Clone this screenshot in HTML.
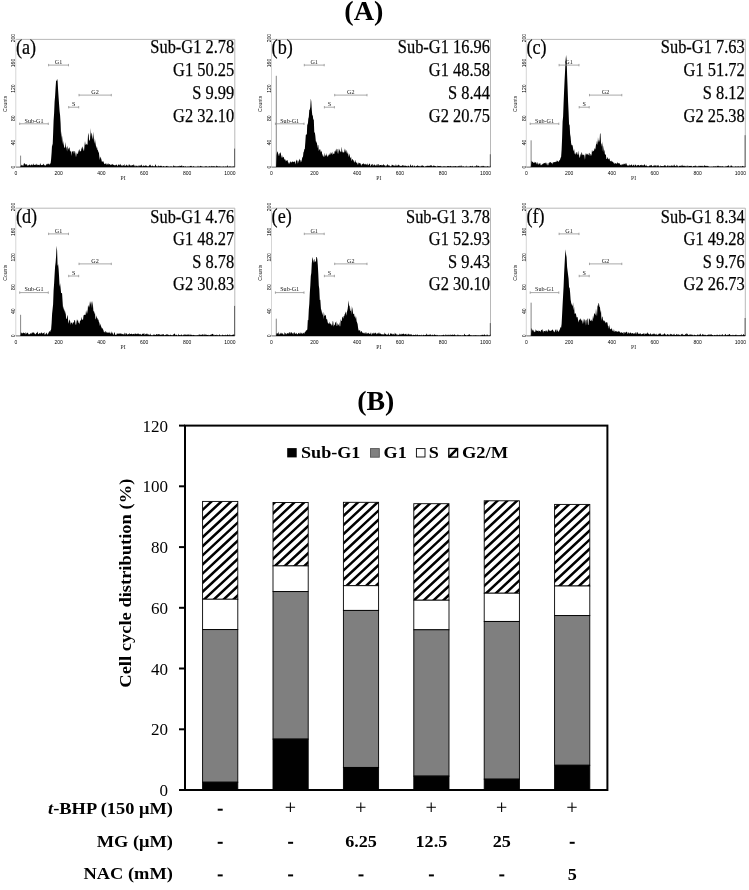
<!DOCTYPE html>
<html><head><meta charset="utf-8"><title>Figure</title>
<style>
html,body{margin:0;padding:0;background:#fff;}
body{width:749px;height:890px;overflow:hidden;font-family:"Liberation Serif",serif;}
svg{display:block}
text{font-family:"Liberation Serif",serif;fill:#000}
.ttl{font-size:27.3px;font-weight:bold;text-anchor:middle}
.lab{font-size:21.5px;stroke:#000;stroke-width:0.25px}
.val{font-size:18px;text-anchor:end;stroke:#000;stroke-width:0.25px}
.gt{font-size:6.1px;text-anchor:middle;fill:#111}
.tk{font-family:"Liberation Sans",sans-serif;font-size:5px;text-anchor:middle;fill:#000}
.ct{font-family:"Liberation Sans",sans-serif;font-size:5.1px;text-anchor:middle;fill:#222}
.pi{font-size:5.6px;text-anchor:middle;fill:#222}
.yt{font-size:17.4px;text-anchor:end}
.yl{font-size:17.7px;font-weight:bold;text-anchor:middle}
.lg{font-size:17.6px;font-weight:bold}
.rl{font-size:17.7px;font-weight:bold;text-anchor:end}
.cv{font-size:17.7px;font-weight:bold;text-anchor:middle}
</style></head><body>
<svg width="749" height="890" viewBox="0 0 749 890">
<defs>
<filter id="bl" x="-10%" y="-10%" width="120%" height="125%"><feGaussianBlur stdDeviation="0.45"/></filter>
<pattern id="hatch" width="10" height="6.65" patternUnits="userSpaceOnUse" patternTransform="rotate(-43)">
<rect width="10" height="6.65" fill="#fff"/><rect x="0" y="0" width="10" height="2.3" fill="#000"/></pattern>
</defs>
<rect width="749" height="890" fill="#fff"/>
<g opacity="0.999">
<text transform="translate(363.8,19.8) scale(1.030,1)" class="ttl">(A)</text>
<g transform="translate(15.8,39.4)">
<g filter="url(#bl)">
<path d="M0 0H219.0V127.7" fill="none" stroke="#b0b0b0" stroke-width="0.9"/>
<path d="M0 0V127.7" fill="none" stroke="#d0d0d0" stroke-width="0.9"/>
<line x1="0" y1="127.7" x2="219.0" y2="127.7" stroke="#666" stroke-width="1"/>
<path d="M0.0 127.7L0.0 127.7L0.5 127.7L1.0 127.7L1.5 127.7L2.0 127.7L2.5 127.7L3.0 127.7L3.5 127.7L4.0 127.7L4.5 127.7L5.0 126.4L5.5 125.2L6.0 126.4L6.5 125.5L7.0 126.4L7.5 126.4L8.0 124.3L8.5 123.6L9.0 124.4L9.5 125.7L10.0 124.3L10.5 125.4L11.0 124.7L11.4 125.3L11.9 126.5L12.4 125.6L12.9 126.0L13.4 125.3L13.9 124.8L14.4 126.4L14.9 125.5L15.4 125.2L15.9 125.0L16.4 126.1L16.9 125.0L17.4 125.5L17.9 123.8L18.4 125.6L18.9 125.5L19.4 125.2L19.9 125.4L20.4 125.8L20.9 124.2L21.4 125.0L21.9 125.9L22.4 125.3L22.9 125.7L23.4 125.8L23.9 125.7L24.4 123.6L24.9 125.1L25.4 125.8L25.9 125.7L26.4 125.7L26.9 125.5L27.4 124.2L27.9 125.2L28.4 125.3L28.9 126.0L29.4 125.9L29.9 126.4L30.4 125.4L30.9 124.6L31.4 124.1L31.9 125.0L32.4 124.3L32.9 124.0L33.3 125.6L33.8 124.6L34.3 124.2L34.8 124.1L35.3 119.8L35.8 113.3L36.3 104.4L36.8 107.0L37.3 94.8L37.8 81.0L38.3 73.9L38.8 62.4L39.3 56.5L39.8 48.2L40.3 41.2L40.8 41.7L41.3 39.3L41.8 41.5L42.3 50.5L42.8 58.1L43.3 65.2L43.8 71.8L44.3 76.0L44.8 84.2L45.3 98.4L45.8 91.6L46.3 104.8L46.8 95.8L47.3 106.6L47.8 101.4L48.3 107.3L48.8 108.6L49.3 107.9L49.8 102.7L50.3 107.7L50.8 108.6L51.3 112.1L51.8 106.0L52.3 108.6L52.8 110.4L53.3 107.8L53.8 108.6L54.3 112.5L54.8 111.7L55.2 111.2L55.7 116.6L56.2 111.5L56.7 112.7L57.2 111.4L57.7 111.9L58.2 114.6L58.7 111.8L59.2 111.6L59.7 114.5L60.2 117.9L60.7 114.8L61.2 112.8L61.7 114.7L62.2 114.5L62.7 110.4L63.2 112.8L63.7 109.3L64.2 111.4L64.7 111.9L65.2 112.2L65.7 107.9L66.2 110.1L66.7 106.9L67.2 108.3L67.7 110.9L68.2 111.5L68.7 106.0L69.2 101.6L69.7 105.2L70.2 105.6L70.7 104.0L71.2 105.3L71.7 105.1L72.2 95.8L72.7 93.3L73.2 99.5L73.7 101.6L74.2 100.7L74.7 88.7L75.2 97.5L75.7 93.2L76.2 94.6L76.6 97.8L77.1 100.0L77.6 92.0L78.1 100.5L78.6 104.3L79.1 98.9L79.6 103.0L80.1 106.1L80.6 109.3L81.1 106.3L81.6 110.4L82.1 110.9L82.6 112.5L83.1 113.3L83.6 117.5L84.1 120.5L84.6 117.0L85.1 118.4L85.6 120.1L86.1 122.4L86.6 122.2L87.1 122.2L87.6 121.9L88.1 123.5L88.6 124.8L89.1 124.4L89.6 124.1L90.1 124.4L90.6 125.7L91.1 123.7L91.6 124.7L92.1 125.4L92.6 123.5L93.1 125.7L93.6 124.7L94.1 124.7L94.6 125.9L95.1 125.2L95.6 125.0L96.1 125.3L96.6 125.2L97.1 124.3L97.6 125.7L98.1 125.7L98.5 126.0L99.0 125.5L99.5 126.2L100.0 125.3L100.5 125.3L101.0 125.2L101.5 127.0L102.0 125.9L102.5 125.5L103.0 124.5L103.5 126.0L104.0 125.2L104.5 124.3L105.0 125.8L105.5 125.9L106.0 126.3L106.5 126.9L107.0 125.3L107.5 125.9L108.0 126.0L108.5 124.4L109.0 126.9L109.5 125.9L110.0 126.8L110.5 124.9L111.0 125.9L111.5 126.4L112.0 126.2L112.5 124.9L113.0 127.4L113.5 124.5L114.0 125.5L114.5 126.5L115.0 125.5L115.5 126.2L116.0 126.2L116.5 125.9L117.0 125.5L117.5 126.1L118.0 124.7L118.5 125.9L119.0 127.2L119.5 127.0L120.0 125.8L120.5 126.1L120.9 126.8L121.4 126.1L121.9 127.4L122.4 125.6L122.9 127.0L123.4 126.9L123.9 125.8L124.4 125.8L124.9 126.4L125.4 126.2L125.9 124.9L126.4 126.9L126.9 127.2L127.4 125.5L127.9 126.5L128.4 126.4L128.9 126.5L129.4 126.3L129.9 125.9L130.4 126.1L130.9 126.3L131.4 127.4L131.9 126.6L132.4 126.7L132.9 127.4L133.4 125.2L133.9 126.2L134.4 126.3L134.9 124.9L135.4 127.3L135.9 126.3L136.4 126.9L136.9 125.8L137.4 126.5L137.9 127.0L138.4 126.7L138.9 127.3L139.4 125.0L139.9 125.0L140.4 127.4L140.9 126.4L141.4 127.4L141.9 127.0L142.3 125.6L142.8 126.9L143.3 127.2L143.8 126.7L144.3 126.3L144.8 126.3L145.3 126.9L145.8 126.0L146.3 127.4L146.8 127.2L147.3 126.8L147.8 126.5L148.3 127.2L148.8 127.2L149.3 127.4L149.8 127.2L150.3 126.7L150.8 126.5L151.3 126.4L151.8 127.0L152.3 127.1L152.8 127.0L153.3 127.2L153.8 127.4L154.3 127.3L154.8 126.9L155.3 126.8L155.8 127.1L156.3 127.4L156.8 127.4L157.3 127.0L157.8 125.9L158.3 126.4L158.8 127.0L159.3 126.4L159.8 127.3L160.3 126.8L160.8 127.2L161.3 127.4L161.8 126.9L162.3 126.6L162.8 126.8L163.3 127.3L163.8 126.1L164.2 126.7L164.7 126.6L165.2 126.3L165.7 126.4L166.2 125.8L166.7 127.4L167.2 127.2L167.7 126.6L168.2 126.7L168.7 127.3L169.2 127.4L169.7 126.6L170.2 127.4L170.7 127.4L171.2 127.4L171.7 127.2L172.2 127.1L172.7 127.0L173.2 127.4L173.7 127.4L174.2 126.4L174.7 126.8L175.2 126.3L175.7 126.6L176.2 127.3L176.7 127.4L177.2 127.1L177.7 126.7L178.2 127.1L178.7 127.4L179.2 127.4L179.7 127.4L180.2 127.4L180.7 127.4L181.2 127.4L181.7 127.4L182.2 126.0L182.7 127.4L183.2 127.4L183.7 127.4L184.2 126.6L184.7 126.4L185.2 127.0L185.7 126.8L186.2 127.0L186.6 127.2L187.1 127.4L187.6 127.4L188.1 127.4L188.6 127.4L189.1 127.1L189.6 126.8L190.1 127.1L190.6 126.8L191.1 127.2L191.6 127.4L192.1 127.4L192.6 127.1L193.1 127.4L193.6 126.6L194.1 127.2L194.6 127.0L195.1 127.4L195.6 126.8L196.1 126.4L196.6 126.8L197.1 127.4L197.6 126.5L198.1 127.0L198.6 127.0L199.1 126.8L199.6 127.4L200.1 127.3L200.6 126.5L201.1 126.2L201.6 127.2L202.1 126.9L202.6 127.0L203.1 127.4L203.6 127.2L204.1 126.9L204.6 127.4L205.1 127.0L205.6 127.4L206.1 127.4L206.6 127.4L207.1 127.1L207.6 126.8L208.0 127.4L208.5 127.4L209.0 127.4L209.5 126.9L210.0 127.3L210.5 127.3L211.0 127.2L211.5 125.6L212.0 127.2L212.5 127.4L213.0 127.4L213.5 126.8L214.0 127.4L214.5 126.8L215.0 127.3L215.5 127.4L216.0 127.4L216.5 127.4L217.0 127.1L217.5 127.1L218.0 127.0L218.5 126.8L219.0 127.0L219.0 127.7Z" fill="#000"/>
<line x1="4.8" y1="127.7" x2="4.8" y2="116.2" stroke="#222" stroke-width="0.55"/>
<line x1="218.8" y1="127.7" x2="218.8" y2="109.2" stroke="#444" stroke-width="0.8"/>
<path d="M32.8 25.7H52.7M32.8 24.5v2.4M52.7 24.5v2.4" stroke="#8c8c8c" stroke-width="0.75" fill="none"/>
<text x="42.7" y="24.5" class="gt">G1</text>
<path d="M52.9 67.8H62.9M52.9 66.6v2.4M62.9 66.6v2.4" stroke="#8c8c8c" stroke-width="0.75" fill="none"/>
<text x="57.9" y="66.6" class="gt">S</text>
<path d="M63.2 55.7H95.5M63.2 54.5v2.4M95.5 54.5v2.4" stroke="#8c8c8c" stroke-width="0.75" fill="none"/>
<text x="79.3" y="54.5" class="gt">G2</text>
<path d="M3.9 84.4H32.5M3.9 83.2v2.4M32.5 83.2v2.4" stroke="#8c8c8c" stroke-width="0.75" fill="none"/>
<text x="18.2" y="83.2" class="gt">Sub-G1</text>
<text x="0.0" y="135.8" class="tk">0</text>
<text x="42.8" y="135.8" class="tk">200</text>
<text x="85.6" y="135.8" class="tk">400</text>
<text x="128.4" y="135.8" class="tk">600</text>
<text x="171.3" y="135.8" class="tk">800</text>
<text x="214.1" y="135.8" class="tk">1000</text>
<text transform="translate(-0.7,127.7) rotate(-90)" class="tk">0</text>
<text transform="translate(-0.7,103.0) rotate(-90)" class="tk">40</text>
<text transform="translate(-0.7,78.9) rotate(-90)" class="tk">80</text>
<text transform="translate(-0.7,49.2) rotate(-90)" class="tk">120</text>
<text transform="translate(-0.7,23.6) rotate(-90)" class="tk">160</text>
<text transform="translate(-0.7,-1.2) rotate(-90)" class="tk">200</text>
<text transform="translate(-9.3,64.5) rotate(-90)" class="ct">Counts</text>
<text x="107.3" y="140.5" class="pi">PI</text>
</g>
<text transform="translate(0.1,14.4) scale(0.845,1)" class="lab">(a)</text>
<text transform="translate(218.4,13.8) scale(0.912,1)" class="val">Sub-G1 2.78</text>
<text transform="translate(218.4,36.6) scale(0.912,1)" class="val">G1 50.25</text>
<text transform="translate(218.4,59.5) scale(0.912,1)" class="val">S 9.99</text>
<text transform="translate(218.4,82.4) scale(0.912,1)" class="val">G2 32.10</text>
</g>
<g transform="translate(271.5,39.4)">
<g filter="url(#bl)">
<path d="M0 0H219.0V127.7" fill="none" stroke="#b0b0b0" stroke-width="0.9"/>
<path d="M0 0V127.7" fill="none" stroke="#d0d0d0" stroke-width="0.9"/>
<line x1="0" y1="127.7" x2="219.0" y2="127.7" stroke="#666" stroke-width="1"/>
<path d="M0.0 127.7L0.0 127.7L0.5 127.7L1.0 127.7L1.5 127.7L2.0 127.7L2.5 127.7L3.0 127.7L3.5 127.7L4.0 127.7L4.5 127.7L5.0 116.1L5.5 112.9L6.0 111.8L6.5 113.8L7.0 115.2L7.5 117.0L8.0 113.9L8.5 113.9L9.0 112.7L9.5 115.0L10.0 118.9L10.5 115.3L11.0 118.2L11.4 118.0L11.9 117.4L12.4 118.1L12.9 120.1L13.4 120.1L13.9 120.0L14.4 122.0L14.9 120.9L15.4 121.4L15.9 120.3L16.4 122.4L16.9 123.1L17.4 124.3L17.9 124.0L18.4 122.7L18.9 121.8L19.4 123.1L19.9 123.2L20.4 122.3L20.9 122.2L21.4 122.4L21.9 122.3L22.4 122.8L22.9 121.9L23.4 122.4L23.9 125.2L24.4 122.1L24.9 121.2L25.4 120.1L25.9 121.6L26.4 124.3L26.9 122.2L27.4 121.0L27.9 119.2L28.4 121.1L28.9 120.7L29.4 123.0L29.9 121.8L30.4 120.2L30.9 117.0L31.4 118.4L31.9 113.1L32.4 112.2L32.9 109.5L33.3 109.6L33.8 103.2L34.3 95.6L34.8 94.5L35.3 95.9L35.8 83.7L36.3 85.9L36.8 79.4L37.3 77.5L37.8 70.3L38.3 70.4L38.8 67.5L39.3 59.1L39.8 62.0L40.3 70.5L40.8 75.9L41.3 76.2L41.8 80.4L42.3 79.9L42.8 93.4L43.3 92.8L43.8 96.1L44.3 101.6L44.8 103.9L45.3 101.4L45.8 109.1L46.3 105.2L46.8 105.9L47.3 111.5L47.8 110.3L48.3 109.3L48.8 113.4L49.3 109.4L49.8 112.5L50.3 111.5L50.8 116.8L51.3 114.2L51.8 117.3L52.3 117.1L52.8 113.0L53.3 117.8L53.8 115.2L54.3 117.2L54.8 113.5L55.2 116.2L55.7 116.1L56.2 117.5L56.7 116.5L57.2 115.0L57.7 115.5L58.2 114.7L58.7 112.6L59.2 115.5L59.7 112.9L60.2 114.9L60.7 112.1L61.2 115.5L61.7 114.3L62.2 114.1L62.7 114.5L63.2 111.5L63.7 112.3L64.2 111.2L64.7 109.1L65.2 111.2L65.7 114.4L66.2 109.5L66.7 109.4L67.2 114.8L67.7 109.1L68.2 111.2L68.7 111.7L69.2 112.9L69.7 112.6L70.2 107.2L70.7 111.7L71.2 113.0L71.7 112.6L72.2 113.3L72.7 112.9L73.2 108.8L73.7 112.9L74.2 109.3L74.7 114.2L75.2 110.4L75.7 112.6L76.2 114.6L76.6 113.6L77.1 117.8L77.6 114.0L78.1 115.7L78.6 117.5L79.1 119.2L79.6 117.2L80.1 121.9L80.6 120.0L81.1 119.4L81.6 121.0L82.1 120.6L82.6 123.0L83.1 122.9L83.6 120.4L84.1 122.2L84.6 123.0L85.1 123.4L85.6 123.1L86.1 125.0L86.6 125.0L87.1 122.8L87.6 123.9L88.1 123.3L88.6 124.3L89.1 123.6L89.6 126.5L90.1 125.1L90.6 124.9L91.1 124.5L91.6 124.2L92.1 123.9L92.6 125.4L93.1 124.4L93.6 125.4L94.1 124.1L94.6 125.4L95.1 124.7L95.6 126.1L96.1 123.6L96.6 125.5L97.1 125.8L97.6 124.1L98.1 124.6L98.5 124.3L99.0 127.4L99.5 125.8L100.0 125.0L100.5 124.9L101.0 124.3L101.5 127.2L102.0 125.1L102.5 126.0L103.0 124.9L103.5 125.4L104.0 126.0L104.5 126.6L105.0 125.5L105.5 124.7L106.0 125.0L106.5 127.0L107.0 124.4L107.5 125.2L108.0 126.3L108.5 125.7L109.0 125.5L109.5 125.5L110.0 125.4L110.5 126.7L111.0 125.7L111.5 125.5L112.0 124.4L112.5 126.4L113.0 125.9L113.5 125.7L114.0 126.7L114.5 127.3L115.0 126.2L115.5 125.4L116.0 124.7L116.5 126.0L117.0 125.9L117.5 126.2L118.0 125.8L118.5 127.2L119.0 126.5L119.5 127.3L120.0 126.4L120.5 124.8L120.9 125.9L121.4 125.6L121.9 126.1L122.4 126.1L122.9 126.9L123.4 125.5L123.9 126.8L124.4 124.5L124.9 126.0L125.4 126.5L125.9 126.4L126.4 125.6L126.9 125.1L127.4 126.1L127.9 125.6L128.4 127.2L128.9 126.7L129.4 126.3L129.9 126.8L130.4 126.2L130.9 126.2L131.4 125.7L131.9 125.9L132.4 127.1L132.9 126.7L133.4 125.9L133.9 126.7L134.4 126.2L134.9 126.5L135.4 126.9L135.9 127.3L136.4 126.2L136.9 126.5L137.4 126.0L137.9 127.3L138.4 127.4L138.9 124.7L139.4 125.8L139.9 127.1L140.4 126.4L140.9 126.3L141.4 125.3L141.9 127.4L142.3 127.4L142.8 126.3L143.3 126.0L143.8 127.3L144.3 127.2L144.8 126.4L145.3 126.9L145.8 126.4L146.3 125.6L146.8 126.7L147.3 126.9L147.8 126.3L148.3 127.1L148.8 127.4L149.3 126.4L149.8 126.2L150.3 126.5L150.8 125.7L151.3 126.5L151.8 126.4L152.3 126.9L152.8 127.4L153.3 127.4L153.8 126.7L154.3 127.1L154.8 126.8L155.3 126.4L155.8 126.5L156.3 126.1L156.8 126.5L157.3 126.4L157.8 126.4L158.3 126.7L158.8 125.7L159.3 126.4L159.8 126.4L160.3 125.7L160.8 127.3L161.3 126.5L161.8 126.3L162.3 126.2L162.8 126.7L163.3 126.4L163.8 126.6L164.2 126.9L164.7 127.1L165.2 127.4L165.7 127.4L166.2 126.2L166.7 126.9L167.2 126.5L167.7 126.8L168.2 126.5L168.7 127.2L169.2 126.3L169.7 126.8L170.2 127.4L170.7 127.4L171.2 127.2L171.7 127.4L172.2 126.6L172.7 127.1L173.2 126.9L173.7 127.4L174.2 126.9L174.7 127.1L175.2 127.3L175.7 126.6L176.2 126.8L176.7 126.7L177.2 126.8L177.7 126.9L178.2 127.1L178.7 126.4L179.2 126.9L179.7 126.7L180.2 127.3L180.7 127.4L181.2 126.9L181.7 126.7L182.2 127.0L182.7 127.3L183.2 126.6L183.7 126.7L184.2 126.8L184.7 126.8L185.2 127.3L185.7 126.9L186.2 127.3L186.6 126.8L187.1 126.8L187.6 126.0L188.1 126.9L188.6 127.4L189.1 126.7L189.6 125.6L190.1 126.9L190.6 127.4L191.1 126.9L191.6 127.4L192.1 126.5L192.6 127.4L193.1 127.4L193.6 127.4L194.1 127.4L194.6 126.2L195.1 127.4L195.6 127.2L196.1 127.3L196.6 127.3L197.1 127.4L197.6 126.8L198.1 127.4L198.6 126.9L199.1 126.3L199.6 127.1L200.1 126.9L200.6 127.0L201.1 126.1L201.6 127.4L202.1 127.4L202.6 127.3L203.1 126.9L203.6 127.4L204.1 126.6L204.6 127.4L205.1 125.6L205.6 125.9L206.1 127.2L206.6 126.5L207.1 126.4L207.6 126.8L208.0 127.4L208.5 127.4L209.0 127.2L209.5 127.4L210.0 126.9L210.5 126.4L211.0 126.5L211.5 127.4L212.0 126.4L212.5 126.7L213.0 127.3L213.5 126.9L214.0 127.4L214.5 127.1L215.0 127.4L215.5 127.1L216.0 126.7L216.5 127.1L217.0 127.0L217.5 127.3L218.0 127.4L218.5 127.2L219.0 125.6L219.0 127.7Z" fill="#000"/>
<line x1="4.8" y1="127.7" x2="4.8" y2="36.4" stroke="#222" stroke-width="0.55"/>
<line x1="218.8" y1="127.7" x2="218.8" y2="114.9" stroke="#444" stroke-width="0.8"/>
<path d="M32.8 25.7H52.7M32.8 24.5v2.4M52.7 24.5v2.4" stroke="#8c8c8c" stroke-width="0.75" fill="none"/>
<text x="42.7" y="24.5" class="gt">G1</text>
<path d="M52.9 67.8H62.9M52.9 66.6v2.4M62.9 66.6v2.4" stroke="#8c8c8c" stroke-width="0.75" fill="none"/>
<text x="57.9" y="66.6" class="gt">S</text>
<path d="M63.2 55.7H95.5M63.2 54.5v2.4M95.5 54.5v2.4" stroke="#8c8c8c" stroke-width="0.75" fill="none"/>
<text x="79.3" y="54.5" class="gt">G2</text>
<path d="M3.9 84.4H32.5M3.9 83.2v2.4M32.5 83.2v2.4" stroke="#8c8c8c" stroke-width="0.75" fill="none"/>
<text x="18.2" y="83.2" class="gt">Sub-G1</text>
<text x="0.0" y="135.8" class="tk">0</text>
<text x="42.8" y="135.8" class="tk">200</text>
<text x="85.6" y="135.8" class="tk">400</text>
<text x="128.4" y="135.8" class="tk">600</text>
<text x="171.3" y="135.8" class="tk">800</text>
<text x="214.1" y="135.8" class="tk">1000</text>
<text transform="translate(-0.7,127.7) rotate(-90)" class="tk">0</text>
<text transform="translate(-0.7,103.0) rotate(-90)" class="tk">40</text>
<text transform="translate(-0.7,78.9) rotate(-90)" class="tk">80</text>
<text transform="translate(-0.7,49.2) rotate(-90)" class="tk">120</text>
<text transform="translate(-0.7,23.6) rotate(-90)" class="tk">160</text>
<text transform="translate(-0.7,-1.2) rotate(-90)" class="tk">200</text>
<text transform="translate(-9.3,64.5) rotate(-90)" class="ct">Counts</text>
<text x="107.3" y="140.5" class="pi">PI</text>
</g>
<text transform="translate(0.1,14.4) scale(0.845,1)" class="lab">(b)</text>
<text transform="translate(218.4,13.8) scale(0.912,1)" class="val">Sub-G1 16.96</text>
<text transform="translate(218.4,36.6) scale(0.912,1)" class="val">G1 48.58</text>
<text transform="translate(218.4,59.5) scale(0.912,1)" class="val">S 8.44</text>
<text transform="translate(218.4,82.4) scale(0.912,1)" class="val">G2 20.75</text>
</g>
<g transform="translate(526.3,39.4)">
<g filter="url(#bl)">
<path d="M0 0H219.0V127.7" fill="none" stroke="#b0b0b0" stroke-width="0.9"/>
<path d="M0 0V127.7" fill="none" stroke="#d0d0d0" stroke-width="0.9"/>
<line x1="0" y1="127.7" x2="219.0" y2="127.7" stroke="#666" stroke-width="1"/>
<path d="M0.0 127.7L0.0 127.7L0.5 127.7L1.0 127.7L1.5 127.7L2.0 127.7L2.5 127.7L3.0 127.7L3.5 127.7L4.0 127.7L4.5 127.7L5.0 122.7L5.5 121.2L6.0 122.5L6.5 122.3L7.0 123.1L7.5 123.6L8.0 123.5L8.5 122.3L9.0 122.6L9.5 123.4L10.0 123.0L10.5 125.2L11.0 122.3L11.4 124.4L11.9 125.5L12.4 123.9L12.9 124.8L13.4 123.6L13.9 123.7L14.4 125.8L14.9 125.8L15.4 125.0L15.9 125.0L16.4 124.3L16.9 124.5L17.4 123.5L17.9 123.8L18.4 123.7L18.9 123.0L19.4 123.6L19.9 125.4L20.4 123.2L20.9 123.8L21.4 125.8L21.9 125.8L22.4 123.4L22.9 123.8L23.4 122.7L23.9 122.8L24.4 122.5L24.9 123.9L25.4 123.1L25.9 125.1L26.4 123.1L26.9 123.3L27.4 122.7L27.9 122.5L28.4 122.9L28.9 122.3L29.4 122.9L29.9 120.8L30.4 122.8L30.9 121.9L31.4 121.1L31.9 122.3L32.4 122.3L32.9 120.7L33.3 121.3L33.8 120.0L34.3 118.4L34.8 117.7L35.3 110.3L35.8 98.5L36.3 82.1L36.8 77.1L37.3 63.3L37.8 51.6L38.3 40.6L38.8 31.2L39.3 20.4L39.8 15.6L40.3 20.2L40.8 35.0L41.3 48.0L41.8 62.4L42.3 73.1L42.8 86.2L43.3 84.5L43.8 94.6L44.3 97.7L44.8 103.6L45.3 105.8L45.8 105.5L46.3 106.2L46.8 109.1L47.3 112.2L47.8 109.7L48.3 113.5L48.8 115.3L49.3 114.3L49.8 112.6L50.3 113.0L50.8 115.5L51.3 114.6L51.8 111.4L52.3 114.5L52.8 115.8L53.3 118.6L53.8 117.4L54.3 114.2L54.8 116.2L55.2 112.7L55.7 113.7L56.2 115.8L56.7 115.2L57.2 115.9L57.7 114.9L58.2 116.7L58.7 120.7L59.2 113.3L59.7 116.0L60.2 113.9L60.7 115.1L61.2 114.0L61.7 115.9L62.2 115.6L62.7 113.4L63.2 113.7L63.7 117.2L64.2 114.9L64.7 114.5L65.2 116.6L65.7 110.1L66.2 112.3L66.7 112.0L67.2 111.3L67.7 111.4L68.2 108.3L68.7 110.3L69.2 108.8L69.7 105.0L70.2 104.6L70.7 101.0L71.2 106.1L71.7 97.6L72.2 103.2L72.7 100.2L73.2 102.9L73.7 94.0L74.2 94.2L74.7 103.7L75.2 104.5L75.7 107.6L76.2 101.9L76.6 112.2L77.1 106.1L77.6 112.5L78.1 110.0L78.6 114.9L79.1 115.1L79.6 115.3L80.1 119.7L80.6 119.7L81.1 117.4L81.6 119.1L82.1 119.4L82.6 120.0L83.1 118.7L83.6 121.0L84.1 122.0L84.6 121.3L85.1 122.3L85.6 120.9L86.1 122.9L86.6 122.0L87.1 124.1L87.6 122.7L88.1 124.2L88.6 124.5L89.1 123.6L89.6 123.8L90.1 124.5L90.6 123.9L91.1 122.6L91.6 124.1L92.1 123.6L92.6 124.0L93.1 123.6L93.6 124.7L94.1 125.5L94.6 125.3L95.1 124.9L95.6 126.1L96.1 124.5L96.6 125.1L97.1 125.1L97.6 124.0L98.1 124.3L98.5 124.8L99.0 125.0L99.5 123.7L100.0 123.9L100.5 125.3L101.0 125.7L101.5 126.6L102.0 126.7L102.5 125.3L103.0 126.3L103.5 124.9L104.0 125.9L104.5 126.0L105.0 125.2L105.5 125.0L106.0 126.4L106.5 126.4L107.0 125.2L107.5 125.7L108.0 127.1L108.5 125.4L109.0 125.2L109.5 125.5L110.0 125.8L110.5 127.0L111.0 125.4L111.5 126.1L112.0 125.4L112.5 125.9L113.0 125.9L113.5 126.9L114.0 125.5L114.5 125.6L115.0 126.1L115.5 125.0L116.0 126.1L116.5 125.8L117.0 126.0L117.5 125.9L118.0 125.6L118.5 124.3L119.0 126.5L119.5 126.1L120.0 126.8L120.5 125.0L120.9 127.1L121.4 126.6L121.9 127.4L122.4 126.5L122.9 126.4L123.4 126.2L123.9 126.4L124.4 125.6L124.9 126.2L125.4 125.4L125.9 126.8L126.4 126.8L126.9 126.9L127.4 126.2L127.9 125.4L128.4 126.5L128.9 126.4L129.4 125.8L129.9 125.5L130.4 127.3L130.9 126.0L131.4 126.2L131.9 125.4L132.4 126.5L132.9 127.1L133.4 127.4L133.9 125.7L134.4 127.0L134.9 126.7L135.4 126.6L135.9 126.9L136.4 126.6L136.9 126.3L137.4 127.0L137.9 125.8L138.4 126.1L138.9 125.7L139.4 126.6L139.9 127.2L140.4 127.0L140.9 125.6L141.4 126.4L141.9 127.4L142.3 126.2L142.8 126.0L143.3 126.7L143.8 127.0L144.3 126.4L144.8 126.2L145.3 126.1L145.8 126.4L146.3 126.2L146.8 127.2L147.3 126.0L147.8 124.9L148.3 126.2L148.8 126.6L149.3 126.7L149.8 127.4L150.3 125.4L150.8 125.5L151.3 126.5L151.8 127.4L152.3 127.1L152.8 126.7L153.3 126.3L153.8 126.5L154.3 126.1L154.8 127.0L155.3 126.2L155.8 125.0L156.3 126.7L156.8 126.4L157.3 126.5L157.8 126.0L158.3 126.5L158.8 127.0L159.3 126.6L159.8 126.2L160.3 127.1L160.8 127.3L161.3 126.1L161.8 126.1L162.3 127.3L162.8 126.5L163.3 126.6L163.8 126.3L164.2 126.5L164.7 126.7L165.2 126.4L165.7 127.4L166.2 127.4L166.7 127.1L167.2 126.5L167.7 126.6L168.2 126.4L168.7 127.4L169.2 126.0L169.7 126.0L170.2 127.3L170.7 126.9L171.2 127.4L171.7 126.7L172.2 127.1L172.7 125.8L173.2 127.0L173.7 126.4L174.2 126.7L174.7 126.4L175.2 126.8L175.7 126.0L176.2 127.0L176.7 126.1L177.2 127.4L177.7 126.5L178.2 125.8L178.7 126.0L179.2 126.7L179.7 126.6L180.2 126.4L180.7 127.1L181.2 126.4L181.7 126.6L182.2 126.8L182.7 127.4L183.2 127.4L183.7 127.1L184.2 127.4L184.7 127.4L185.2 127.4L185.7 126.8L186.2 127.4L186.6 127.4L187.1 127.2L187.6 126.6L188.1 127.2L188.6 127.1L189.1 126.6L189.6 127.4L190.1 127.4L190.6 126.4L191.1 126.4L191.6 126.8L192.1 126.0L192.6 127.2L193.1 126.8L193.6 127.1L194.1 127.2L194.6 126.6L195.1 127.1L195.6 127.1L196.1 126.7L196.6 127.0L197.1 127.4L197.6 127.0L198.1 127.4L198.6 127.3L199.1 127.4L199.6 126.3L200.1 126.8L200.6 127.4L201.1 126.3L201.6 126.5L202.1 125.7L202.6 126.7L203.1 127.4L203.6 127.4L204.1 127.2L204.6 125.8L205.1 126.7L205.6 125.8L206.1 127.4L206.6 127.0L207.1 127.4L207.6 127.4L208.0 127.4L208.5 127.4L209.0 126.9L209.5 127.1L210.0 127.4L210.5 127.1L211.0 127.4L211.5 126.9L212.0 127.4L212.5 126.7L213.0 127.3L213.5 127.3L214.0 127.2L214.5 126.9L215.0 127.4L215.5 127.2L216.0 126.9L216.5 126.3L217.0 127.4L217.5 126.8L218.0 127.4L218.5 127.4L219.0 126.3L219.0 127.7Z" fill="#000"/>
<line x1="4.8" y1="127.7" x2="4.8" y2="100.9" stroke="#222" stroke-width="0.55"/>
<line x1="218.8" y1="127.7" x2="218.8" y2="95.8" stroke="#444" stroke-width="0.8"/>
<path d="M32.8 25.7H52.7M32.8 24.5v2.4M52.7 24.5v2.4" stroke="#8c8c8c" stroke-width="0.75" fill="none"/>
<text x="42.7" y="24.5" class="gt">G1</text>
<path d="M52.9 67.8H62.9M52.9 66.6v2.4M62.9 66.6v2.4" stroke="#8c8c8c" stroke-width="0.75" fill="none"/>
<text x="57.9" y="66.6" class="gt">S</text>
<path d="M63.2 55.7H95.5M63.2 54.5v2.4M95.5 54.5v2.4" stroke="#8c8c8c" stroke-width="0.75" fill="none"/>
<text x="79.3" y="54.5" class="gt">G2</text>
<path d="M3.9 84.4H32.5M3.9 83.2v2.4M32.5 83.2v2.4" stroke="#8c8c8c" stroke-width="0.75" fill="none"/>
<text x="18.2" y="83.2" class="gt">Sub-G1</text>
<text x="0.0" y="135.8" class="tk">0</text>
<text x="42.8" y="135.8" class="tk">200</text>
<text x="85.6" y="135.8" class="tk">400</text>
<text x="128.4" y="135.8" class="tk">600</text>
<text x="171.3" y="135.8" class="tk">800</text>
<text x="214.1" y="135.8" class="tk">1000</text>
<text transform="translate(-0.7,127.7) rotate(-90)" class="tk">0</text>
<text transform="translate(-0.7,103.0) rotate(-90)" class="tk">40</text>
<text transform="translate(-0.7,78.9) rotate(-90)" class="tk">80</text>
<text transform="translate(-0.7,49.2) rotate(-90)" class="tk">120</text>
<text transform="translate(-0.7,23.6) rotate(-90)" class="tk">160</text>
<text transform="translate(-0.7,-1.2) rotate(-90)" class="tk">200</text>
<text transform="translate(-9.3,64.5) rotate(-90)" class="ct">Counts</text>
<text x="107.3" y="140.5" class="pi">PI</text>
</g>
<text transform="translate(0.1,14.4) scale(0.845,1)" class="lab">(c)</text>
<text transform="translate(218.4,13.8) scale(0.912,1)" class="val">Sub-G1 7.63</text>
<text transform="translate(218.4,36.6) scale(0.912,1)" class="val">G1 51.72</text>
<text transform="translate(218.4,59.5) scale(0.912,1)" class="val">S 8.12</text>
<text transform="translate(218.4,82.4) scale(0.912,1)" class="val">G2 25.38</text>
</g>
<g transform="translate(15.8,208.2)">
<g filter="url(#bl)">
<path d="M0 0H219.0V127.7" fill="none" stroke="#b0b0b0" stroke-width="0.9"/>
<path d="M0 0V127.7" fill="none" stroke="#d0d0d0" stroke-width="0.9"/>
<line x1="0" y1="127.7" x2="219.0" y2="127.7" stroke="#666" stroke-width="1"/>
<path d="M0.0 127.7L0.0 127.7L0.5 127.7L1.0 127.7L1.5 127.7L2.0 127.7L2.5 127.7L3.0 127.7L3.5 127.7L4.0 127.7L4.5 127.7L5.0 124.2L5.5 124.4L6.0 125.2L6.5 124.6L7.0 125.5L7.5 124.0L8.0 124.7L8.5 124.8L9.0 125.2L9.5 123.8L10.0 126.2L10.5 125.5L11.0 124.6L11.4 124.7L11.9 124.4L12.4 125.3L12.9 126.4L13.4 126.1L13.9 126.1L14.4 125.7L14.9 124.5L15.4 125.8L15.9 124.9L16.4 123.8L16.9 125.0L17.4 124.4L17.9 124.4L18.4 124.5L18.9 125.5L19.4 126.0L19.9 126.1L20.4 124.7L20.9 125.0L21.4 123.4L21.9 124.4L22.4 126.1L22.9 125.8L23.4 124.8L23.9 125.2L24.4 124.5L24.9 125.7L25.4 124.6L25.9 124.1L26.4 125.3L26.9 125.3L27.4 124.7L27.9 125.0L28.4 123.6L28.9 126.5L29.4 126.2L29.9 125.8L30.4 124.4L30.9 125.1L31.4 126.1L31.9 126.6L32.4 123.8L32.9 125.8L33.3 123.0L33.8 123.0L34.3 123.7L34.8 122.1L35.3 121.3L35.8 115.1L36.3 105.5L36.8 100.8L37.3 96.0L37.8 82.3L38.3 75.2L38.8 66.3L39.3 58.4L39.8 54.4L40.3 47.7L40.8 37.6L41.3 42.3L41.8 57.9L42.3 55.7L42.8 60.7L43.3 68.9L43.8 78.6L44.3 75.1L44.8 79.7L45.3 84.8L45.8 84.8L46.3 85.4L46.8 93.5L47.3 101.3L47.8 97.7L48.3 103.3L48.8 100.8L49.3 106.0L49.8 102.9L50.3 110.3L50.8 111.0L51.3 108.2L51.8 106.6L52.3 112.0L52.8 115.6L53.3 112.8L53.8 111.0L54.3 112.7L54.8 116.7L55.2 113.7L55.7 114.8L56.2 114.5L56.7 116.6L57.2 113.5L57.7 114.8L58.2 113.6L58.7 111.9L59.2 111.8L59.7 115.8L60.2 117.0L60.7 113.8L61.2 110.9L61.7 112.9L62.2 111.7L62.7 114.9L63.2 114.2L63.7 116.3L64.2 112.1L64.7 112.5L65.2 112.1L65.7 108.6L66.2 111.9L66.7 111.0L67.2 111.9L67.7 107.6L68.2 106.5L68.7 106.7L69.2 106.4L69.7 107.0L70.2 102.5L70.7 105.8L71.2 101.1L71.7 105.7L72.2 96.9L72.7 97.9L73.2 99.5L73.7 97.0L74.2 92.8L74.7 96.6L75.2 92.7L75.7 94.7L76.2 100.1L76.6 92.5L77.1 96.3L77.6 102.5L78.1 103.3L78.6 106.2L79.1 102.8L79.6 110.1L80.1 111.4L80.6 107.1L81.1 109.4L81.6 110.0L82.1 111.5L82.6 111.3L83.1 113.8L83.6 114.6L84.1 117.7L84.6 115.3L85.1 117.8L85.6 118.9L86.1 120.2L86.6 119.9L87.1 121.0L87.6 121.7L88.1 123.9L88.6 124.4L89.1 123.4L89.6 122.6L90.1 124.5L90.6 123.2L91.1 124.7L91.6 124.4L92.1 124.2L92.6 124.4L93.1 124.5L93.6 124.8L94.1 123.2L94.6 125.3L95.1 125.6L95.6 124.6L96.1 123.1L96.6 125.1L97.1 125.2L97.6 127.0L98.1 125.2L98.5 123.7L99.0 124.7L99.5 126.6L100.0 126.9L100.5 126.9L101.0 125.4L101.5 125.4L102.0 125.5L102.5 125.9L103.0 125.1L103.5 125.4L104.0 125.6L104.5 124.7L105.0 125.7L105.5 126.1L106.0 125.1L106.5 125.7L107.0 126.1L107.5 125.5L108.0 126.8L108.5 124.0L109.0 126.2L109.5 126.6L110.0 124.6L110.5 125.3L111.0 125.3L111.5 126.9L112.0 125.7L112.5 126.0L113.0 125.7L113.5 124.6L114.0 126.4L114.5 125.8L115.0 125.7L115.5 125.3L116.0 125.7L116.5 125.7L117.0 126.2L117.5 125.5L118.0 125.9L118.5 126.4L119.0 125.2L119.5 125.9L120.0 125.0L120.5 125.7L120.9 126.0L121.4 125.1L121.9 126.0L122.4 125.0L122.9 125.8L123.4 126.3L123.9 125.7L124.4 125.5L124.9 126.3L125.4 126.0L125.9 127.0L126.4 125.5L126.9 125.5L127.4 125.7L127.9 125.2L128.4 124.9L128.9 127.0L129.4 125.6L129.9 126.3L130.4 126.1L130.9 125.4L131.4 125.2L131.9 126.4L132.4 126.6L132.9 126.1L133.4 126.1L133.9 127.1L134.4 126.8L134.9 125.1L135.4 127.2L135.9 126.9L136.4 127.4L136.9 127.0L137.4 125.8L137.9 127.1L138.4 126.9L138.9 126.1L139.4 126.8L139.9 126.8L140.4 125.9L140.9 126.0L141.4 126.6L141.9 126.0L142.3 126.0L142.8 125.9L143.3 126.6L143.8 125.8L144.3 126.6L144.8 126.6L145.3 126.7L145.8 126.0L146.3 126.7L146.8 125.7L147.3 126.4L147.8 125.9L148.3 126.9L148.8 127.3L149.3 126.5L149.8 126.9L150.3 126.2L150.8 126.2L151.3 125.9L151.8 126.5L152.3 126.2L152.8 126.9L153.3 126.8L153.8 127.4L154.3 126.0L154.8 126.9L155.3 126.8L155.8 127.1L156.3 127.1L156.8 127.4L157.3 126.1L157.8 126.6L158.3 125.6L158.8 125.3L159.3 126.1L159.8 127.4L160.3 126.6L160.8 126.5L161.3 127.4L161.8 127.2L162.3 127.4L162.8 125.4L163.3 127.1L163.8 126.7L164.2 126.8L164.7 127.2L165.2 126.4L165.7 126.4L166.2 126.7L166.7 127.4L167.2 127.3L167.7 126.0L168.2 127.4L168.7 126.4L169.2 125.7L169.7 126.7L170.2 126.2L170.7 126.9L171.2 126.3L171.7 126.6L172.2 126.2L172.7 126.2L173.2 126.5L173.7 127.4L174.2 125.4L174.7 126.8L175.2 126.9L175.7 126.6L176.2 126.5L176.7 127.4L177.2 126.6L177.7 126.9L178.2 126.9L178.7 127.4L179.2 126.7L179.7 127.4L180.2 127.4L180.7 127.4L181.2 126.5L181.7 127.4L182.2 126.9L182.7 127.2L183.2 125.7L183.7 126.3L184.2 127.4L184.7 126.2L185.2 126.9L185.7 126.6L186.2 126.6L186.6 126.3L187.1 126.1L187.6 126.3L188.1 127.4L188.6 126.8L189.1 125.3L189.6 127.4L190.1 125.9L190.6 126.7L191.1 126.6L191.6 126.9L192.1 126.7L192.6 127.3L193.1 126.3L193.6 127.2L194.1 127.1L194.6 126.4L195.1 126.8L195.6 126.1L196.1 126.4L196.6 125.6L197.1 125.8L197.6 126.3L198.1 127.4L198.6 127.4L199.1 126.4L199.6 127.0L200.1 126.9L200.6 126.2L201.1 127.4L201.6 127.1L202.1 126.6L202.6 127.4L203.1 127.4L203.6 125.6L204.1 127.4L204.6 127.1L205.1 127.4L205.6 127.4L206.1 127.1L206.6 126.1L207.1 127.4L207.6 127.1L208.0 126.8L208.5 126.9L209.0 127.4L209.5 127.1L210.0 126.2L210.5 127.0L211.0 127.4L211.5 126.1L212.0 126.6L212.5 127.4L213.0 126.5L213.5 127.4L214.0 125.7L214.5 126.8L215.0 127.4L215.5 127.0L216.0 127.1L216.5 126.4L217.0 127.0L217.5 126.3L218.0 126.4L218.5 126.4L219.0 126.7L219.0 127.7Z" fill="#000"/>
<line x1="4.8" y1="127.7" x2="4.8" y2="106.6" stroke="#222" stroke-width="0.55"/>
<line x1="218.8" y1="127.7" x2="218.8" y2="97.7" stroke="#444" stroke-width="0.8"/>
<path d="M32.8 25.7H52.7M32.8 24.5v2.4M52.7 24.5v2.4" stroke="#8c8c8c" stroke-width="0.75" fill="none"/>
<text x="42.7" y="24.5" class="gt">G1</text>
<path d="M52.9 67.8H62.9M52.9 66.6v2.4M62.9 66.6v2.4" stroke="#8c8c8c" stroke-width="0.75" fill="none"/>
<text x="57.9" y="66.6" class="gt">S</text>
<path d="M63.2 55.7H95.5M63.2 54.5v2.4M95.5 54.5v2.4" stroke="#8c8c8c" stroke-width="0.75" fill="none"/>
<text x="79.3" y="54.5" class="gt">G2</text>
<path d="M3.9 84.4H32.5M3.9 83.2v2.4M32.5 83.2v2.4" stroke="#8c8c8c" stroke-width="0.75" fill="none"/>
<text x="18.2" y="83.2" class="gt">Sub-G1</text>
<text x="0.0" y="135.8" class="tk">0</text>
<text x="42.8" y="135.8" class="tk">200</text>
<text x="85.6" y="135.8" class="tk">400</text>
<text x="128.4" y="135.8" class="tk">600</text>
<text x="171.3" y="135.8" class="tk">800</text>
<text x="214.1" y="135.8" class="tk">1000</text>
<text transform="translate(-0.7,127.7) rotate(-90)" class="tk">0</text>
<text transform="translate(-0.7,103.0) rotate(-90)" class="tk">40</text>
<text transform="translate(-0.7,78.9) rotate(-90)" class="tk">80</text>
<text transform="translate(-0.7,49.2) rotate(-90)" class="tk">120</text>
<text transform="translate(-0.7,23.6) rotate(-90)" class="tk">160</text>
<text transform="translate(-0.7,-1.2) rotate(-90)" class="tk">200</text>
<text transform="translate(-9.3,64.5) rotate(-90)" class="ct">Counts</text>
<text x="107.3" y="140.5" class="pi">PI</text>
</g>
<text transform="translate(0.1,14.4) scale(0.845,1)" class="lab">(d)</text>
<text transform="translate(218.4,14.5) scale(0.912,1)" class="val">Sub-G1 4.76</text>
<text transform="translate(218.4,36.9) scale(0.912,1)" class="val">G1 48.27</text>
<text transform="translate(218.4,59.3) scale(0.912,1)" class="val">S 8.78</text>
<text transform="translate(218.4,81.7) scale(0.912,1)" class="val">G2 30.83</text>
</g>
<g transform="translate(271.5,208.2)">
<g filter="url(#bl)">
<path d="M0 0H219.0V127.7" fill="none" stroke="#b0b0b0" stroke-width="0.9"/>
<path d="M0 0V127.7" fill="none" stroke="#d0d0d0" stroke-width="0.9"/>
<line x1="0" y1="127.7" x2="219.0" y2="127.7" stroke="#666" stroke-width="1"/>
<path d="M0.0 127.7L0.0 127.7L0.5 127.7L1.0 127.7L1.5 127.7L2.0 127.7L2.5 127.7L3.0 127.7L3.5 127.7L4.0 127.7L4.5 127.7L5.0 125.0L5.5 125.2L6.0 125.0L6.5 125.2L7.0 123.2L7.5 127.4L8.0 125.3L8.5 125.7L9.0 124.2L9.5 126.4L10.0 124.3L10.5 125.6L11.0 125.4L11.4 125.0L11.9 126.8L12.4 125.9L12.9 123.5L13.4 127.0L13.9 124.7L14.4 125.1L14.9 125.6L15.4 126.3L15.9 124.9L16.4 124.7L16.9 124.6L17.4 126.0L17.9 124.3L18.4 123.5L18.9 125.7L19.4 123.8L19.9 124.3L20.4 124.4L20.9 125.5L21.4 125.1L21.9 124.2L22.4 126.6L22.9 123.6L23.4 124.7L23.9 126.0L24.4 125.1L24.9 124.6L25.4 126.0L25.9 126.1L26.4 125.8L26.9 124.5L27.4 125.1L27.9 125.8L28.4 124.3L28.9 125.7L29.4 123.8L29.9 125.0L30.4 125.2L30.9 125.9L31.4 124.5L31.9 124.5L32.4 125.2L32.9 125.4L33.3 123.9L33.8 123.9L34.3 122.6L34.8 122.2L35.3 121.9L35.8 121.2L36.3 111.7L36.8 112.0L37.3 101.2L37.8 95.7L38.3 84.8L38.8 77.5L39.3 67.9L39.8 64.7L40.3 55.0L40.8 50.6L41.3 48.9L41.8 54.9L42.3 51.8L42.8 50.5L43.3 54.2L43.8 52.9L44.3 54.1L44.8 48.9L45.3 48.9L45.8 50.7L46.3 56.8L46.8 65.8L47.3 77.2L47.8 80.7L48.3 92.1L48.8 91.2L49.3 98.6L49.8 104.8L50.3 100.2L50.8 107.0L51.3 104.2L51.8 111.0L52.3 103.6L52.8 106.6L53.3 108.1L53.8 107.0L54.3 106.5L54.8 110.8L55.2 111.0L55.7 111.3L56.2 114.2L56.7 114.9L57.2 115.6L57.7 115.7L58.2 113.4L58.7 115.7L59.2 115.1L59.7 117.9L60.2 115.7L60.7 117.2L61.2 112.7L61.7 113.3L62.2 118.5L62.7 116.4L63.2 117.2L63.7 114.5L64.2 114.0L64.7 113.1L65.2 117.8L65.7 117.6L66.2 114.9L66.7 116.3L67.2 117.2L67.7 113.7L68.2 118.1L68.7 118.1L69.2 110.8L69.7 112.9L70.2 112.8L70.7 109.2L71.2 108.4L71.7 110.6L72.2 107.9L72.7 108.0L73.2 106.0L73.7 105.1L74.2 103.0L74.7 107.6L75.2 104.4L75.7 102.8L76.2 100.5L76.6 97.4L77.1 92.0L77.6 97.4L78.1 97.8L78.6 102.6L79.1 102.8L79.6 97.7L80.1 106.5L80.6 98.9L81.1 101.5L81.6 105.4L82.1 106.0L82.6 105.3L83.1 109.1L83.6 107.3L84.1 110.7L84.6 108.2L85.1 113.1L85.6 114.3L86.1 115.8L86.6 119.8L87.1 122.4L87.6 122.2L88.1 122.1L88.6 122.1L89.1 124.6L89.6 122.8L90.1 123.0L90.6 123.8L91.1 124.9L91.6 124.3L92.1 125.2L92.6 124.3L93.1 125.1L93.6 125.8L94.1 124.3L94.6 123.9L95.1 125.5L95.6 125.4L96.1 125.4L96.6 124.5L97.1 124.7L97.6 125.9L98.1 125.6L98.5 125.3L99.0 125.6L99.5 123.9L100.0 127.4L100.5 124.7L101.0 125.0L101.5 126.0L102.0 124.7L102.5 124.3L103.0 125.4L103.5 125.4L104.0 124.3L104.5 124.7L105.0 126.3L105.5 125.0L106.0 125.3L106.5 125.4L107.0 125.4L107.5 123.9L108.0 125.3L108.5 125.7L109.0 125.1L109.5 125.7L110.0 126.1L110.5 126.3L111.0 125.7L111.5 126.6L112.0 125.6L112.5 127.0L113.0 124.1L113.5 126.0L114.0 125.3L114.5 126.1L115.0 126.2L115.5 126.7L116.0 126.1L116.5 126.6L117.0 124.4L117.5 126.7L118.0 127.1L118.5 126.0L119.0 124.9L119.5 125.5L120.0 125.9L120.5 124.9L120.9 126.6L121.4 125.8L121.9 126.3L122.4 125.2L122.9 127.0L123.4 124.4L123.9 125.2L124.4 125.7L124.9 125.5L125.4 127.2L125.9 127.1L126.4 125.5L126.9 127.0L127.4 126.6L127.9 126.3L128.4 125.1L128.9 126.3L129.4 126.3L129.9 126.3L130.4 125.4L130.9 125.8L131.4 126.1L131.9 125.4L132.4 125.6L132.9 126.1L133.4 126.5L133.9 125.6L134.4 125.9L134.9 126.7L135.4 125.3L135.9 126.0L136.4 127.4L136.9 125.3L137.4 125.7L137.9 126.1L138.4 126.7L138.9 126.1L139.4 126.2L139.9 126.2L140.4 126.4L140.9 127.1L141.4 127.3L141.9 126.2L142.3 126.8L142.8 126.9L143.3 127.0L143.8 125.9L144.3 127.4L144.8 126.4L145.3 127.4L145.8 126.3L146.3 126.3L146.8 127.4L147.3 127.1L147.8 126.5L148.3 127.0L148.8 127.2L149.3 126.9L149.8 126.3L150.3 127.2L150.8 127.4L151.3 127.0L151.8 126.5L152.3 126.6L152.8 127.3L153.3 126.7L153.8 126.9L154.3 126.9L154.8 125.0L155.3 126.5L155.8 127.1L156.3 126.4L156.8 126.6L157.3 126.7L157.8 126.9L158.3 126.1L158.8 126.7L159.3 125.9L159.8 127.0L160.3 127.4L160.8 126.8L161.3 126.3L161.8 126.9L162.3 127.4L162.8 126.5L163.3 125.7L163.8 127.0L164.2 126.7L164.7 126.5L165.2 127.4L165.7 127.4L166.2 126.5L166.7 127.4L167.2 127.2L167.7 127.2L168.2 127.1L168.7 127.4L169.2 127.2L169.7 126.9L170.2 127.4L170.7 127.4L171.2 126.8L171.7 126.6L172.2 126.6L172.7 127.4L173.2 127.4L173.7 125.7L174.2 127.4L174.7 127.4L175.2 126.3L175.7 127.3L176.2 126.6L176.7 126.4L177.2 127.1L177.7 127.2L178.2 126.3L178.7 127.4L179.2 126.1L179.7 126.7L180.2 126.8L180.7 126.1L181.2 126.8L181.7 126.6L182.2 126.9L182.7 126.9L183.2 125.8L183.7 126.7L184.2 127.3L184.7 127.0L185.2 127.4L185.7 127.2L186.2 126.4L186.6 126.4L187.1 127.4L187.6 126.8L188.1 127.4L188.6 127.0L189.1 127.0L189.6 127.4L190.1 127.4L190.6 127.4L191.1 127.0L191.6 127.4L192.1 127.4L192.6 126.6L193.1 125.4L193.6 126.9L194.1 126.7L194.6 127.4L195.1 127.2L195.6 127.1L196.1 127.2L196.6 126.2L197.1 126.7L197.6 126.3L198.1 125.9L198.6 127.2L199.1 126.9L199.6 127.4L200.1 127.1L200.6 127.4L201.1 127.2L201.6 127.3L202.1 127.1L202.6 127.4L203.1 127.1L203.6 127.4L204.1 126.7L204.6 127.3L205.1 127.0L205.6 127.2L206.1 127.4L206.6 127.0L207.1 127.4L207.6 127.4L208.0 127.4L208.5 127.4L209.0 127.2L209.5 126.9L210.0 127.3L210.5 126.4L211.0 126.9L211.5 126.6L212.0 127.3L212.5 126.3L213.0 126.4L213.5 126.5L214.0 127.3L214.5 127.3L215.0 127.4L215.5 125.8L216.0 126.8L216.5 127.2L217.0 127.4L217.5 127.4L218.0 127.4L218.5 126.6L219.0 125.8L219.0 127.7Z" fill="#000"/>
<line x1="4.8" y1="127.7" x2="4.8" y2="110.5" stroke="#222" stroke-width="0.55"/>
<line x1="218.8" y1="127.7" x2="218.8" y2="114.9" stroke="#444" stroke-width="0.8"/>
<path d="M32.8 25.7H52.7M32.8 24.5v2.4M52.7 24.5v2.4" stroke="#8c8c8c" stroke-width="0.75" fill="none"/>
<text x="42.7" y="24.5" class="gt">G1</text>
<path d="M52.9 67.8H62.9M52.9 66.6v2.4M62.9 66.6v2.4" stroke="#8c8c8c" stroke-width="0.75" fill="none"/>
<text x="57.9" y="66.6" class="gt">S</text>
<path d="M63.2 55.7H95.5M63.2 54.5v2.4M95.5 54.5v2.4" stroke="#8c8c8c" stroke-width="0.75" fill="none"/>
<text x="79.3" y="54.5" class="gt">G2</text>
<path d="M3.9 84.4H32.5M3.9 83.2v2.4M32.5 83.2v2.4" stroke="#8c8c8c" stroke-width="0.75" fill="none"/>
<text x="18.2" y="83.2" class="gt">Sub-G1</text>
<text x="0.0" y="135.8" class="tk">0</text>
<text x="42.8" y="135.8" class="tk">200</text>
<text x="85.6" y="135.8" class="tk">400</text>
<text x="128.4" y="135.8" class="tk">600</text>
<text x="171.3" y="135.8" class="tk">800</text>
<text x="214.1" y="135.8" class="tk">1000</text>
<text transform="translate(-0.7,127.7) rotate(-90)" class="tk">0</text>
<text transform="translate(-0.7,103.0) rotate(-90)" class="tk">40</text>
<text transform="translate(-0.7,78.9) rotate(-90)" class="tk">80</text>
<text transform="translate(-0.7,49.2) rotate(-90)" class="tk">120</text>
<text transform="translate(-0.7,23.6) rotate(-90)" class="tk">160</text>
<text transform="translate(-0.7,-1.2) rotate(-90)" class="tk">200</text>
<text transform="translate(-9.3,64.5) rotate(-90)" class="ct">Counts</text>
<text x="107.3" y="140.5" class="pi">PI</text>
</g>
<text transform="translate(0.1,14.4) scale(0.845,1)" class="lab">(e)</text>
<text transform="translate(218.4,14.5) scale(0.912,1)" class="val">Sub-G1 3.78</text>
<text transform="translate(218.4,36.9) scale(0.912,1)" class="val">G1 52.93</text>
<text transform="translate(218.4,59.3) scale(0.912,1)" class="val">S 9.43</text>
<text transform="translate(218.4,81.7) scale(0.912,1)" class="val">G2 30.10</text>
</g>
<g transform="translate(526.3,208.2)">
<g filter="url(#bl)">
<path d="M0 0H219.0V127.7" fill="none" stroke="#b0b0b0" stroke-width="0.9"/>
<path d="M0 0V127.7" fill="none" stroke="#d0d0d0" stroke-width="0.9"/>
<line x1="0" y1="127.7" x2="219.0" y2="127.7" stroke="#666" stroke-width="1"/>
<path d="M0.0 127.7L0.0 127.7L0.5 127.7L1.0 127.7L1.5 127.7L2.0 127.7L2.5 127.7L3.0 127.7L3.5 127.7L4.0 127.7L4.5 127.7L5.0 121.6L5.5 119.6L6.0 122.7L6.5 121.2L7.0 121.9L7.5 123.2L8.0 123.2L8.5 124.0L9.0 123.2L9.5 121.1L10.0 122.0L10.5 122.9L11.0 122.9L11.4 122.2L11.9 123.6L12.4 122.1L12.9 123.0L13.4 122.6L13.9 122.6L14.4 124.1L14.9 121.9L15.4 121.8L15.9 120.9L16.4 122.6L16.9 124.5L17.4 122.5L17.9 122.9L18.4 122.7L18.9 123.5L19.4 122.1L19.9 123.3L20.4 122.1L20.9 122.3L21.4 124.0L21.9 122.1L22.4 120.9L22.9 122.0L23.4 122.7L23.9 122.4L24.4 123.0L24.9 122.3L25.4 122.2L25.9 121.9L26.4 121.0L26.9 122.4L27.4 123.4L27.9 123.4L28.4 124.3L28.9 121.9L29.4 121.1L29.9 124.0L30.4 121.3L30.9 121.3L31.4 122.9L31.9 123.0L32.4 123.8L32.9 122.2L33.3 121.9L33.8 120.3L34.3 118.7L34.8 119.5L35.3 115.9L35.8 106.3L36.3 96.4L36.8 87.3L37.3 78.0L37.8 65.5L38.3 55.9L38.8 46.8L39.3 41.0L39.8 46.4L40.3 49.1L40.8 58.8L41.3 62.7L41.8 66.7L42.3 70.6L42.8 80.1L43.3 78.9L43.8 84.3L44.3 91.3L44.8 94.2L45.3 96.0L45.8 96.9L46.3 98.2L46.8 94.1L47.3 102.0L47.8 98.6L48.3 105.2L48.8 105.8L49.3 104.6L49.8 106.6L50.3 109.4L50.8 108.8L51.3 109.0L51.8 112.1L52.3 114.2L52.8 111.1L53.3 112.4L53.8 110.2L54.3 110.6L54.8 112.6L55.2 112.4L55.7 111.0L56.2 113.9L56.7 116.0L57.2 110.0L57.7 115.0L58.2 111.0L58.7 111.4L59.2 112.8L59.7 117.6L60.2 111.9L60.7 111.3L61.2 109.9L61.7 117.0L62.2 116.4L62.7 109.5L63.2 111.4L63.7 111.0L64.2 112.9L64.7 112.8L65.2 111.1L65.7 113.2L66.2 112.2L66.7 107.3L67.2 110.9L67.7 106.2L68.2 104.8L68.7 105.8L69.2 107.3L69.7 100.3L70.2 104.8L70.7 108.2L71.2 96.5L71.7 98.6L72.2 94.5L72.7 95.6L73.2 98.6L73.7 99.1L74.2 104.9L74.7 101.6L75.2 112.6L75.7 108.8L76.2 108.4L76.6 111.1L77.1 113.2L77.6 111.5L78.1 112.7L78.6 113.4L79.1 115.2L79.6 113.4L80.1 114.5L80.6 113.8L81.1 114.6L81.6 117.5L82.1 117.9L82.6 120.6L83.1 116.0L83.6 120.4L84.1 121.3L84.6 120.5L85.1 121.1L85.6 119.3L86.1 123.1L86.6 122.0L87.1 123.5L87.6 120.9L88.1 122.9L88.6 124.1L89.1 122.5L89.6 123.1L90.1 123.6L90.6 122.5L91.1 123.6L91.6 123.9L92.1 123.4L92.6 122.6L93.1 123.4L93.6 124.1L94.1 124.9L94.6 124.0L95.1 123.9L95.6 124.8L96.1 124.7L96.6 124.3L97.1 123.9L97.6 126.4L98.1 124.1L98.5 124.1L99.0 124.1L99.5 124.8L100.0 123.2L100.5 123.7L101.0 124.4L101.5 126.1L102.0 124.5L102.5 124.1L103.0 124.8L103.5 125.5L104.0 124.6L104.5 124.1L105.0 125.7L105.5 124.7L106.0 124.8L106.5 125.1L107.0 126.1L107.5 124.8L108.0 124.7L108.5 125.7L109.0 125.3L109.5 123.7L110.0 124.2L110.5 126.3L111.0 124.3L111.5 123.8L112.0 125.7L112.5 125.6L113.0 125.2L113.5 125.7L114.0 124.5L114.5 126.0L115.0 126.0L115.5 126.0L116.0 125.6L116.5 125.7L117.0 125.2L117.5 125.2L118.0 125.1L118.5 126.7L119.0 125.1L119.5 125.9L120.0 125.7L120.5 125.0L120.9 125.2L121.4 123.9L121.9 125.8L122.4 125.2L122.9 126.0L123.4 126.5L123.9 124.6L124.4 125.7L124.9 126.6L125.4 126.1L125.9 126.4L126.4 125.8L126.9 125.0L127.4 126.2L127.9 125.1L128.4 126.0L128.9 126.4L129.4 126.2L129.9 125.2L130.4 126.5L130.9 126.9L131.4 126.5L131.9 125.2L132.4 126.6L132.9 125.4L133.4 125.6L133.9 124.9L134.4 125.7L134.9 126.3L135.4 126.7L135.9 126.9L136.4 126.1L136.9 126.2L137.4 126.4L137.9 124.9L138.4 125.6L138.9 126.2L139.4 126.4L139.9 126.3L140.4 127.4L140.9 125.7L141.4 126.0L141.9 126.2L142.3 126.4L142.8 127.2L143.3 126.6L143.8 125.4L144.3 126.4L144.8 125.7L145.3 126.0L145.8 126.8L146.3 126.3L146.8 126.9L147.3 126.0L147.8 125.2L148.3 126.5L148.8 126.9L149.3 126.9L149.8 126.6L150.3 125.6L150.8 126.4L151.3 126.6L151.8 126.1L152.3 126.4L152.8 126.8L153.3 126.4L153.8 127.4L154.3 127.1L154.8 125.6L155.3 126.6L155.8 125.2L156.3 126.4L156.8 126.3L157.3 126.9L157.8 126.7L158.3 126.8L158.8 126.3L159.3 125.5L159.8 126.5L160.3 125.0L160.8 125.4L161.3 126.1L161.8 126.6L162.3 126.8L162.8 126.9L163.3 126.2L163.8 126.1L164.2 126.7L164.7 125.8L165.2 126.6L165.7 126.8L166.2 126.3L166.7 127.4L167.2 127.4L167.7 126.2L168.2 126.6L168.7 127.1L169.2 126.8L169.7 127.0L170.2 127.1L170.7 127.4L171.2 126.2L171.7 126.1L172.2 127.2L172.7 126.4L173.2 126.8L173.7 125.8L174.2 125.2L174.7 127.1L175.2 127.3L175.7 127.1L176.2 125.5L176.7 126.3L177.2 126.3L177.7 127.0L178.2 126.2L178.7 127.2L179.2 126.2L179.7 127.0L180.2 127.3L180.7 126.9L181.2 126.6L181.7 127.1L182.2 126.6L182.7 125.5L183.2 127.4L183.7 125.7L184.2 127.0L184.7 125.5L185.2 126.4L185.7 127.0L186.2 126.7L186.6 126.9L187.1 127.3L187.6 127.3L188.1 126.6L188.6 127.1L189.1 126.7L189.6 127.4L190.1 126.3L190.6 127.3L191.1 126.0L191.6 127.4L192.1 126.9L192.6 127.4L193.1 126.0L193.6 127.4L194.1 127.3L194.6 126.2L195.1 127.4L195.6 126.2L196.1 125.6L196.6 127.4L197.1 127.1L197.6 127.3L198.1 127.4L198.6 126.3L199.1 125.5L199.6 126.6L200.1 127.1L200.6 127.0L201.1 126.2L201.6 127.3L202.1 126.5L202.6 126.4L203.1 125.7L203.6 126.1L204.1 127.4L204.6 126.5L205.1 127.4L205.6 126.7L206.1 127.4L206.6 126.4L207.1 127.3L207.6 126.6L208.0 127.4L208.5 126.8L209.0 126.4L209.5 127.0L210.0 126.4L210.5 127.2L211.0 126.9L211.5 127.4L212.0 127.4L212.5 126.8L213.0 127.4L213.5 126.9L214.0 127.1L214.5 126.9L215.0 125.7L215.5 127.4L216.0 127.1L216.5 127.0L217.0 126.1L217.5 126.1L218.0 126.7L218.5 126.9L219.0 127.4L219.0 127.7Z" fill="#000"/>
<line x1="4.8" y1="127.7" x2="4.8" y2="94.5" stroke="#222" stroke-width="0.55"/>
<line x1="218.8" y1="127.7" x2="218.8" y2="109.8" stroke="#444" stroke-width="0.8"/>
<path d="M32.8 25.7H52.7M32.8 24.5v2.4M52.7 24.5v2.4" stroke="#8c8c8c" stroke-width="0.75" fill="none"/>
<text x="42.7" y="24.5" class="gt">G1</text>
<path d="M52.9 67.8H62.9M52.9 66.6v2.4M62.9 66.6v2.4" stroke="#8c8c8c" stroke-width="0.75" fill="none"/>
<text x="57.9" y="66.6" class="gt">S</text>
<path d="M63.2 55.7H95.5M63.2 54.5v2.4M95.5 54.5v2.4" stroke="#8c8c8c" stroke-width="0.75" fill="none"/>
<text x="79.3" y="54.5" class="gt">G2</text>
<path d="M3.9 84.4H32.5M3.9 83.2v2.4M32.5 83.2v2.4" stroke="#8c8c8c" stroke-width="0.75" fill="none"/>
<text x="18.2" y="83.2" class="gt">Sub-G1</text>
<text x="0.0" y="135.8" class="tk">0</text>
<text x="42.8" y="135.8" class="tk">200</text>
<text x="85.6" y="135.8" class="tk">400</text>
<text x="128.4" y="135.8" class="tk">600</text>
<text x="171.3" y="135.8" class="tk">800</text>
<text x="214.1" y="135.8" class="tk">1000</text>
<text transform="translate(-0.7,127.7) rotate(-90)" class="tk">0</text>
<text transform="translate(-0.7,103.0) rotate(-90)" class="tk">40</text>
<text transform="translate(-0.7,78.9) rotate(-90)" class="tk">80</text>
<text transform="translate(-0.7,49.2) rotate(-90)" class="tk">120</text>
<text transform="translate(-0.7,23.6) rotate(-90)" class="tk">160</text>
<text transform="translate(-0.7,-1.2) rotate(-90)" class="tk">200</text>
<text transform="translate(-9.3,64.5) rotate(-90)" class="ct">Counts</text>
<text x="107.3" y="140.5" class="pi">PI</text>
</g>
<text transform="translate(0.1,14.4) scale(0.845,1)" class="lab">(f)</text>
<text transform="translate(218.4,14.5) scale(0.912,1)" class="val">Sub-G1 8.34</text>
<text transform="translate(218.4,36.9) scale(0.912,1)" class="val">G1 49.28</text>
<text transform="translate(218.4,59.3) scale(0.912,1)" class="val">S 9.76</text>
<text transform="translate(218.4,81.7) scale(0.912,1)" class="val">G2 26.73</text>
</g>
<text transform="translate(375.7,409.6) scale(1.020,1)" class="ttl">(B)</text>
<clipPath id="cp0"><rect x="202.6" y="501.4" width="35.2" height="97.9"/></clipPath>
<rect x="202.6" y="501.4" width="35.2" height="97.9" fill="#fff"/>
<path d="M200.6 502.6L239.8 466.1M200.6 511.7L239.8 475.2M200.6 520.8L239.8 484.3M200.6 529.9L239.8 493.4M200.6 539.0L239.8 502.5M200.6 548.1L239.8 511.6M200.6 557.2L239.8 520.7M200.6 566.3L239.8 529.8M200.6 575.4L239.8 538.9M200.6 584.5L239.8 548.0M200.6 593.6L239.8 557.1M200.6 602.7L239.8 566.2M200.6 611.8L239.8 575.3M200.6 620.9L239.8 584.4M200.6 630.0L239.8 593.5M200.6 639.1L239.8 602.6" stroke="#000" stroke-width="2.5" fill="none" clip-path="url(#cp0)"/>
<rect x="202.6" y="501.4" width="35.2" height="97.9" fill="none" stroke="#000" stroke-width="0.9"/>
<rect x="202.6" y="599.2" width="35.2" height="30.3" fill="#fff" stroke="#000" stroke-width="0.9"/>
<rect x="202.6" y="629.6" width="35.2" height="152.6" fill="#7f7f7f" stroke="#000" stroke-width="0.9"/>
<rect x="202.6" y="782.2" width="35.2" height="7.8" fill="#000" stroke="#000" stroke-width="0.9"/>
<clipPath id="cp1"><rect x="273.0" y="502.5" width="35.2" height="63.4"/></clipPath>
<rect x="273.0" y="502.5" width="35.2" height="63.4" fill="#fff"/>
<path d="M271.0 496.9L310.2 460.4M271.0 506.0L310.2 469.5M271.0 515.1L310.2 478.6M271.0 524.2L310.2 487.7M271.0 533.3L310.2 496.8M271.0 542.4L310.2 505.9M271.0 551.5L310.2 515.0M271.0 560.6L310.2 524.1M271.0 569.7L310.2 533.2M271.0 578.8L310.2 542.3M271.0 587.9L310.2 551.4M271.0 597.0L310.2 560.5M271.0 606.1L310.2 569.6" stroke="#000" stroke-width="2.5" fill="none" clip-path="url(#cp1)"/>
<rect x="273.0" y="502.5" width="35.2" height="63.4" fill="none" stroke="#000" stroke-width="0.9"/>
<rect x="273.0" y="565.9" width="35.2" height="25.6" fill="#fff" stroke="#000" stroke-width="0.9"/>
<rect x="273.0" y="591.6" width="35.2" height="147.5" fill="#7f7f7f" stroke="#000" stroke-width="0.9"/>
<rect x="273.0" y="739.1" width="35.2" height="50.9" fill="#000" stroke="#000" stroke-width="0.9"/>
<clipPath id="cp2"><rect x="343.4" y="502.3" width="35.2" height="83.4"/></clipPath>
<rect x="343.4" y="502.3" width="35.2" height="83.4" fill="#fff"/>
<path d="M341.4 499.6L380.6 463.1M341.4 508.7L380.6 472.2M341.4 517.8L380.6 481.3M341.4 526.9L380.6 490.4M341.4 536.0L380.6 499.5M341.4 545.1L380.6 508.6M341.4 554.2L380.6 517.7M341.4 563.3L380.6 526.8M341.4 572.4L380.6 535.9M341.4 581.5L380.6 545.0M341.4 590.6L380.6 554.1M341.4 599.7L380.6 563.2M341.4 608.8L380.6 572.3M341.4 617.9L380.6 581.4M341.4 627.0L380.6 590.5" stroke="#000" stroke-width="2.5" fill="none" clip-path="url(#cp2)"/>
<rect x="343.4" y="502.3" width="35.2" height="83.4" fill="none" stroke="#000" stroke-width="0.9"/>
<rect x="343.4" y="585.7" width="35.2" height="24.7" fill="#fff" stroke="#000" stroke-width="0.9"/>
<rect x="343.4" y="610.4" width="35.2" height="157.1" fill="#7f7f7f" stroke="#000" stroke-width="0.9"/>
<rect x="343.4" y="767.4" width="35.2" height="22.6" fill="#000" stroke="#000" stroke-width="0.9"/>
<clipPath id="cp3"><rect x="413.8" y="503.7" width="35.2" height="96.5"/></clipPath>
<rect x="413.8" y="503.7" width="35.2" height="96.5" fill="#fff"/>
<path d="M411.8 502.3L451.0 465.8M411.8 511.4L451.0 474.9M411.8 520.5L451.0 484.0M411.8 529.6L451.0 493.1M411.8 538.7L451.0 502.2M411.8 547.8L451.0 511.3M411.8 556.9L451.0 520.4M411.8 566.0L451.0 529.5M411.8 575.1L451.0 538.6M411.8 584.2L451.0 547.7M411.8 593.3L451.0 556.8M411.8 602.4L451.0 565.9M411.8 611.5L451.0 575.0M411.8 620.6L451.0 584.1M411.8 629.7L451.0 593.2M411.8 638.8L451.0 602.3" stroke="#000" stroke-width="2.5" fill="none" clip-path="url(#cp3)"/>
<rect x="413.8" y="503.7" width="35.2" height="96.5" fill="none" stroke="#000" stroke-width="0.9"/>
<rect x="413.8" y="600.2" width="35.2" height="29.6" fill="#fff" stroke="#000" stroke-width="0.9"/>
<rect x="413.8" y="629.8" width="35.2" height="146.3" fill="#7f7f7f" stroke="#000" stroke-width="0.9"/>
<rect x="413.8" y="776.1" width="35.2" height="13.9" fill="#000" stroke="#000" stroke-width="0.9"/>
<clipPath id="cp4"><rect x="484.2" y="500.8" width="35.2" height="92.4"/></clipPath>
<rect x="484.2" y="500.8" width="35.2" height="92.4" fill="#fff"/>
<path d="M482.2 496.8L521.4 460.3M482.2 505.9L521.4 469.4M482.2 515.0L521.4 478.5M482.2 524.1L521.4 487.6M482.2 533.2L521.4 496.7M482.2 542.3L521.4 505.8M482.2 551.4L521.4 514.9M482.2 560.5L521.4 524.0M482.2 569.6L521.4 533.1M482.2 578.7L521.4 542.2M482.2 587.8L521.4 551.3M482.2 596.9L521.4 560.4M482.2 606.0L521.4 569.5M482.2 615.1L521.4 578.6M482.2 624.2L521.4 587.7M482.2 633.3L521.4 596.8" stroke="#000" stroke-width="2.5" fill="none" clip-path="url(#cp4)"/>
<rect x="484.2" y="500.8" width="35.2" height="92.4" fill="none" stroke="#000" stroke-width="0.9"/>
<rect x="484.2" y="593.2" width="35.2" height="28.2" fill="#fff" stroke="#000" stroke-width="0.9"/>
<rect x="484.2" y="621.5" width="35.2" height="157.7" fill="#7f7f7f" stroke="#000" stroke-width="0.9"/>
<rect x="484.2" y="779.1" width="35.2" height="10.9" fill="#000" stroke="#000" stroke-width="0.9"/>
<clipPath id="cp5"><rect x="554.6" y="504.4" width="35.2" height="81.6"/></clipPath>
<rect x="554.6" y="504.4" width="35.2" height="81.6" fill="#fff"/>
<path d="M552.6 501.4L591.8 464.9M552.6 510.5L591.8 474.0M552.6 519.6L591.8 483.1M552.6 528.7L591.8 492.2M552.6 537.8L591.8 501.3M552.6 546.9L591.8 510.4M552.6 556.0L591.8 519.5M552.6 565.1L591.8 528.6M552.6 574.2L591.8 537.7M552.6 583.3L591.8 546.8M552.6 592.4L591.8 555.9M552.6 601.5L591.8 565.0M552.6 610.6L591.8 574.1M552.6 619.7L591.8 583.2M552.6 628.8L591.8 592.3" stroke="#000" stroke-width="2.5" fill="none" clip-path="url(#cp5)"/>
<rect x="554.6" y="504.4" width="35.2" height="81.6" fill="none" stroke="#000" stroke-width="0.9"/>
<rect x="554.6" y="586.0" width="35.2" height="29.6" fill="#fff" stroke="#000" stroke-width="0.9"/>
<rect x="554.6" y="615.6" width="35.2" height="149.6" fill="#7f7f7f" stroke="#000" stroke-width="0.9"/>
<rect x="554.6" y="765.3" width="35.2" height="24.7" fill="#000" stroke="#000" stroke-width="0.9"/>
<rect x="185.0" y="425.6" width="422.4" height="364.4" fill="none" stroke="#000" stroke-width="2"/>
<line x1="179" y1="790.0" x2="185.0" y2="790.0" stroke="#000" stroke-width="2"/>
<text transform="translate(168.0,796.0) scale(0.980,1)" class="yt">0</text>
<line x1="179" y1="729.3" x2="185.0" y2="729.3" stroke="#000" stroke-width="2"/>
<text transform="translate(168.0,735.3) scale(0.980,1)" class="yt">20</text>
<line x1="179" y1="668.5" x2="185.0" y2="668.5" stroke="#000" stroke-width="2"/>
<text transform="translate(168.0,674.5) scale(0.980,1)" class="yt">40</text>
<line x1="179" y1="607.8" x2="185.0" y2="607.8" stroke="#000" stroke-width="2"/>
<text transform="translate(168.0,613.8) scale(0.980,1)" class="yt">60</text>
<line x1="179" y1="547.1" x2="185.0" y2="547.1" stroke="#000" stroke-width="2"/>
<text transform="translate(168.0,553.1) scale(0.980,1)" class="yt">80</text>
<line x1="179" y1="486.3" x2="185.0" y2="486.3" stroke="#000" stroke-width="2"/>
<text transform="translate(168.0,492.3) scale(0.980,1)" class="yt">100</text>
<line x1="179" y1="425.6" x2="185.0" y2="425.6" stroke="#000" stroke-width="2"/>
<text transform="translate(168.0,431.6) scale(0.980,1)" class="yt">120</text>
<text transform="translate(130.8,583.2) rotate(-90) scale(1.045,1)" class="yl">Cell cycle distribution (%)</text>
<rect x="287.2" y="448.1" width="9.5" height="9.3" fill="#000"/>
<text transform="translate(301.0,458.3) scale(1.030,1)" class="lg">Sub-G1</text>
<rect x="370.5" y="448.6" width="8.8" height="8.6" fill="#808080" stroke="#555" stroke-width="0.9"/>
<text transform="translate(383.6,458.3) scale(1.030,1)" class="lg">G1</text>
<rect x="416.4" y="448.6" width="8.6" height="8.4" fill="#fff" stroke="#000" stroke-width="0.9"/>
<text transform="translate(428.8,458.3) scale(1.030,1)" class="lg">S</text>
<rect x="448.8" y="448.5" width="8.8" height="8.6" fill="#fff" stroke="#000" stroke-width="1.3"/><path d="M449 457.2L457.4 448.6" stroke="#000" stroke-width="2.5"/>
<text transform="translate(462.0,458.3) scale(1.050,1)" class="lg">G2/M</text>
<text transform="translate(172.9,813.5) scale(1.040,1)" class="rl"><tspan font-style="italic">t</tspan>-BHP (150 μM)</text>
<rect x="217.7" y="808.7" width="5" height="2" fill="#000"/>
<path d="M285.7 807.3h9.4M290.4 802.6v9.4" stroke="#000" stroke-width="1.1" fill="none"/>
<path d="M356.1 807.3h9.4M360.8 802.6v9.4" stroke="#000" stroke-width="1.1" fill="none"/>
<path d="M426.5 807.3h9.4M431.2 802.6v9.4" stroke="#000" stroke-width="1.1" fill="none"/>
<path d="M496.9 807.3h9.4M501.6 802.6v9.4" stroke="#000" stroke-width="1.1" fill="none"/>
<path d="M567.3 807.3h9.4M572.0 802.6v9.4" stroke="#000" stroke-width="1.1" fill="none"/>
<text transform="translate(172.9,846.6) scale(1.040,1)" class="rl">MG (μM)</text>
<rect x="217.7" y="841.8" width="5" height="2" fill="#000"/>
<rect x="288.1" y="841.8" width="5" height="2" fill="#000"/>
<text transform="translate(361.0,847.2) scale(1.025,1)" class="cv">6.25</text>
<text transform="translate(431.4,847.2) scale(1.025,1)" class="cv">12.5</text>
<text transform="translate(501.8,847.2) scale(1.025,1)" class="cv">25</text>
<rect x="569.7" y="841.8" width="5" height="2" fill="#000"/>
<text transform="translate(172.9,879.2) scale(1.040,1)" class="rl">NAC (mM)</text>
<rect x="217.7" y="874.4" width="5" height="2" fill="#000"/>
<rect x="288.1" y="874.4" width="5" height="2" fill="#000"/>
<rect x="358.5" y="874.4" width="5" height="2" fill="#000"/>
<rect x="428.9" y="874.4" width="5" height="2" fill="#000"/>
<rect x="499.3" y="874.4" width="5" height="2" fill="#000"/>
<text transform="translate(572.2,879.8) scale(1.025,1)" class="cv">5</text>
</g>
</svg>
</body></html>
